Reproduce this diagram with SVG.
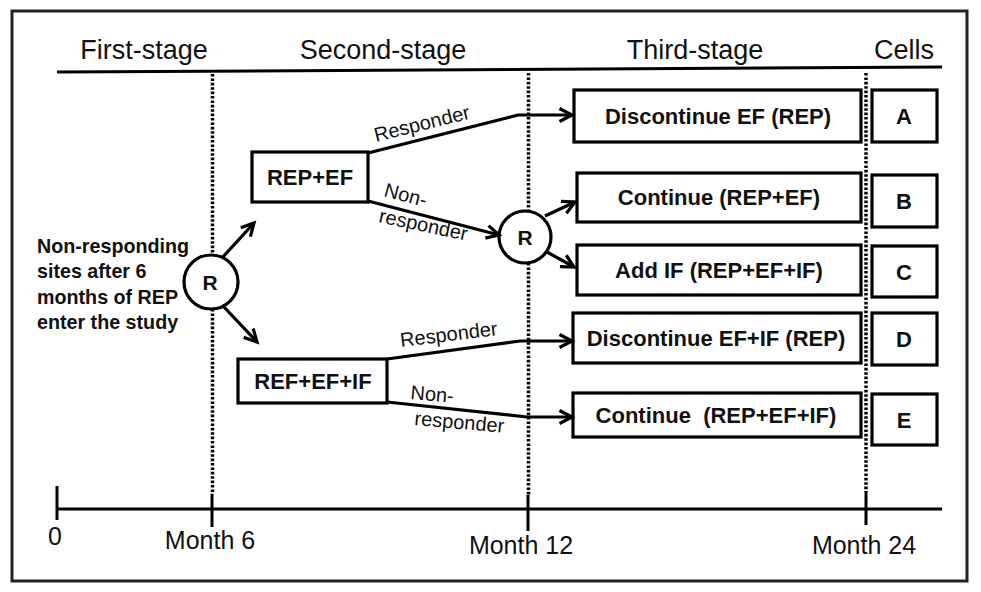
<svg xmlns="http://www.w3.org/2000/svg" width="981" height="592" viewBox="0 0 981 592">
<defs>
<marker id="arr" markerUnits="userSpaceOnUse" markerWidth="18" markerHeight="18" refX="14" refY="8" orient="auto">
<path d="M1.5,1.5 L14,8 L1.5,14.5" fill="none" stroke="#000" stroke-width="3.2" stroke-linejoin="miter"/>
</marker>
</defs>
<style>
text{font-family:"Liberation Sans",Arial,sans-serif;fill:#111}
.hdr{font-size:27px;text-anchor:middle}
.ax{font-size:25px;text-anchor:middle}
.bx{font-size:22px;font-weight:bold;text-anchor:middle}
.lbl{font-size:20px}
.lt{font-size:19.7px;font-weight:bold}
.box{fill:#fff;stroke:#000;stroke-width:3.2}
.dot{stroke:#000;stroke-width:3.5;stroke-dasharray:2.6 1.8;fill:none}
.sol{stroke:#000;stroke-width:3;fill:none}
.con{stroke:#000;stroke-width:3.2;fill:none;stroke-linejoin:round}
</style>
<rect x="12" y="11" width="955" height="570" fill="#fff" stroke="#222" stroke-width="3"/>

<g id="headers">
<text class="hdr" x="144" y="59">First-stage</text>
<text class="hdr" x="383" y="59">Second-stage</text>
<text class="hdr" x="695" y="59">Third-stage</text>
<text class="hdr" x="904" y="59">Cells</text>
<line class="sol" x1="57" y1="72" x2="942" y2="67"/>
</g>

<g id="timeline">
<line class="dot" x1="212.5" y1="74" x2="212.5" y2="254"/>
<line class="dot" x1="212.5" y1="309" x2="212.5" y2="494"/>
<line class="dot" x1="528.5" y1="73" x2="528.5" y2="210"/>
<line class="dot" x1="528.5" y1="263" x2="528.5" y2="495"/>
<line class="dot" x1="866" y1="73" x2="866" y2="492"/>
<line class="sol" x1="57" y1="509" x2="942" y2="509"/>
<line class="sol" x1="57" y1="486" x2="57" y2="520"/>
<line class="sol" x1="212" y1="494" x2="212" y2="527"/>
<line class="sol" x1="528" y1="495" x2="528" y2="531"/>
<line class="sol" x1="866" y1="492" x2="866" y2="525"/>
<text class="ax" x="55" y="545">0</text>
<text class="ax" x="210" y="549">Month 6</text>
<text class="ax" x="521" y="554">Month 12</text>
<text class="ax" x="864" y="554">Month 24</text>
</g>

<g id="intro">
<text class="lt" x="37" y="253">Non-responding</text>
<text class="lt" x="37" y="278">sites after 6</text>
<text class="lt" x="37" y="304">months of REP</text>
<text class="lt" x="37" y="329">enter the study</text>
</g>

<g id="r1">
<circle cx="211" cy="282" r="27" class="box"/>
<text class="bx" x="210" y="290" style="font-size:21px">R</text>
</g>

<g id="r2">
<circle cx="525" cy="237" r="26" class="box"/>
<text class="bx" x="525" y="245" style="font-size:21px">R</text>
</g>

<g id="rep-ef">
<rect class="box" x="252" y="152" width="116" height="50"/>
<text class="bx" x="310" y="185">REP+EF</text>
</g>

<g id="ref-ef-if">
<rect class="box" x="238" y="359" width="149" height="44"/>
<text class="bx" x="313" y="389">REF+EF+IF</text>
</g>

<g id="opt-a">
<rect class="box" x="574" y="90" width="287" height="52"/>
<text class="bx" x="718" y="124">Discontinue EF (REP)</text>
</g>
<g id="opt-b">
<rect class="box" x="577" y="173" width="284" height="49"/>
<text class="bx" x="719" y="205">Continue (REP+EF)</text>
</g>
<g id="opt-c">
<rect class="box" x="577" y="245" width="284" height="50"/>
<text class="bx" x="719" y="278">Add IF (REP+EF+IF)</text>
</g>
<g id="opt-d">
<rect class="box" x="573" y="313" width="288" height="50"/>
<text class="bx" x="716" y="346">Discontinue EF+IF (REP)</text>
</g>
<g id="opt-e">
<rect class="box" x="573" y="393" width="288" height="44"/>
<text class="bx" x="716" y="423" xml:space="preserve">Continue  (REP+EF+IF)</text>
</g>

<g id="cell-a"><rect class="box" x="872" y="90" width="65" height="52"/><text class="bx" x="904" y="124">A</text></g>
<g id="cell-b"><rect class="box" x="872" y="175" width="65" height="52"/><text class="bx" x="904" y="209">B</text></g>
<g id="cell-c"><rect class="box" x="872" y="246" width="65" height="51"/><text class="bx" x="904" y="280">C</text></g>
<g id="cell-d"><rect class="box" x="872" y="313" width="65" height="52"/><text class="bx" x="904" y="347">D</text></g>
<g id="cell-e"><rect class="box" x="872" y="394" width="65" height="51"/><text class="bx" x="904" y="428">E</text></g>

<g id="connectors">
<line class="con" x1="222" y1="258" x2="254" y2="223" marker-end="url(#arr)"/>
<line class="con" x1="223" y1="306" x2="257" y2="342" marker-end="url(#arr)"/>
<polyline class="con" points="368,153 518,115 572,115" marker-end="url(#arr)"/>
<line class="con" x1="368" y1="201" x2="499" y2="235" marker-end="url(#arr)"/>
<line class="con" x1="545" y1="216" x2="575" y2="202" marker-end="url(#arr)"/>
<line class="con" x1="547" y1="252" x2="574" y2="267" marker-end="url(#arr)"/>
<polyline class="con" points="387,359 520,341 572,341" marker-end="url(#arr)"/>
<polyline class="con" points="387,402 527,417 572,417" marker-end="url(#arr)"/>
<text class="lbl" transform="translate(376,142) rotate(-14)">Responder</text>
<text class="lbl" transform="translate(383,196) rotate(15)">Non-</text>
<text class="lbl" transform="translate(378,222) rotate(12)">responder</text>
<text class="lbl" transform="translate(401,347) rotate(-7)">Responder</text>
<text class="lbl" transform="translate(410,399) rotate(5)">Non-</text>
<text class="lbl" transform="translate(414,425) rotate(5)">responder</text>
</g>
</svg>
